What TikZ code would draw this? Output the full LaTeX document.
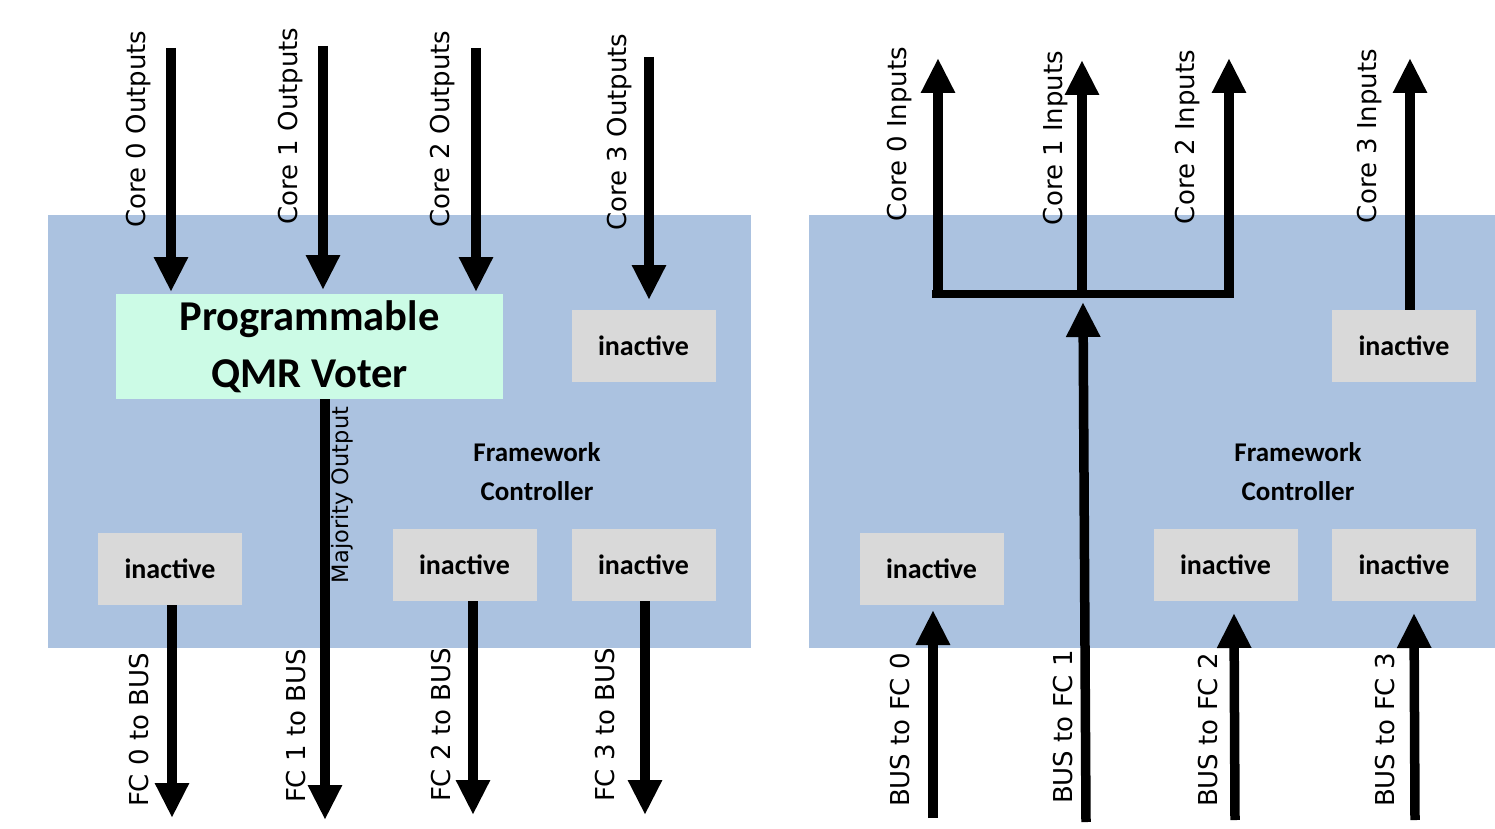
\documentclass[tikz,border=0pt]{standalone}
\usepackage{fontspec}
\setmainfont{Carlito}
\newfontfamily\lblfont{DejaVu Sans}
\usetikzlibrary{arrows.meta}
\definecolor{panelblue}{RGB}{171,194,224}
\definecolor{mint}{RGB}{204,251,230}
\definecolor{boxgray}{RGB}{217,217,217}
\begin{document}
\begin{tikzpicture}[x=1pt,y=-1pt,
  panel/.style={fill=panelblue, draw=none, minimum height=433pt, inner sep=0pt, anchor=north west},
  inbox/.style={fill=boxgray, draw=none, minimum width=144pt, minimum height=72pt, inner sep=0pt, font=\bfseries\fontsize{28}{30}\selectfont},
  voterbox/.style={fill=mint, draw=none, minimum width=387pt, minimum height=105pt, inner sep=0pt, align=center, font=\bfseries\fontsize{42.5}{57}\selectfont},
  flow/.style={line width=9.5pt, -{Triangle[width=32pt,length=35pt]}},
  plain/.style={line width=8pt},
  lbl/.style={rotate=90, font=\lblfont\fontsize{26}{28}\selectfont, inner sep=0pt},
  smalllbl/.style={rotate=90, font=\lblfont\fontsize{22.5}{24}\selectfont, inner sep=0pt},
  ctl/.style={font=\bfseries\fontsize{27}{39}\selectfont, align=center, inner sep=0pt}]
\useasboundingbox (0,0) rectangle (1495,829);

% panels
\node[panel, minimum width=703pt] (lpanel) at (48,215) {};
\node[panel, minimum width=686pt] (rpanel) at (809,215) {};

% ---------------- left panel ----------------
\node[voterbox] (voter) at (309.5,346.5) {Programmable\\QMR Voter};
\node[inbox] (li3) at (643.5,346) {inactive};
\node[inbox] (li0) at (170,569) {inactive};
\node[inbox] (li2) at (464.5,565) {inactive};
\node[inbox] (li4) at (643.5,565) {inactive};
\node[ctl] (lfc) at (537,472) {Framework\\Controller};

\coordinate (lo0) at (171,48);
\coordinate (lo1) at (323,46);
\coordinate (lo2) at (476,48);
\coordinate (lo3) at (649,57);
\draw[flow] (lo0) -- (171,292);
\draw[flow] (lo1) -- (323,290);
\draw[flow] (lo2) -- (476,292);
\draw[flow] (lo3) -- (649,300);

\coordinate (lb0) at (172,818);
\coordinate (lb1) at (325,820);
\coordinate (lb2) at (473,815);
\coordinate (lb3) at (645,815);
\draw[flow] (li0.south -| lb0) -- (lb0);
\draw[flow] (voter.south -| lb1) -- (lb1);
\draw[flow] (li2.south -| lb2) -- (lb2);
\draw[flow] (li4.south -| lb3) -- (lb3);

\node[lbl] (tl0) at (139,129) {Core 0 Outputs};
\node[lbl] (tl1) at (291,126) {Core 1 Outputs};
\node[lbl] (tl2) at (443,129) {Core 2 Outputs};
\node[lbl] (tl3) at (620,132) {Core 3 Outputs};
\node[smalllbl] (mo) at (342,495) {Majority Output};
\node[lbl] (bl0) at (139,730) {FC 0 to BUS};
\node[lbl] (bl1) at (296,726) {FC 1 to BUS};
\node[lbl] (bl2) at (441,725) {FC 2 to BUS};
\node[lbl] (bl3) at (605,725) {FC 3 to BUS};

% ---------------- right panel ----------------
\node[inbox] (ri3) at (1404,346) {inactive};
\node[inbox] (ri0) at (931.5,569) {inactive};
\node[inbox] (ri2) at (1225.5,565) {inactive};
\node[inbox] (ri4) at (1404,565) {inactive};
\node[ctl] (rfc) at (1298,472) {Framework\\Controller};

\coordinate (ja) at (932,294);
\coordinate (jb) at (1234,294);
\coordinate (j0) at (938,294);
\coordinate (j1) at (1082,294);
\coordinate (j2) at (1229,294);
\draw[plain] (ja) -- (jb);
\draw[flow] ([yshift=4pt]j0) -- (938,58);
\draw[flow] (j1) -- (1082,60);
\draw[flow] ([yshift=4pt]j2) -- (1229,58);
\draw[flow] (ri3.north -| 1410,0) -- (1410,58);

\coordinate (rb0) at (933,818);
\coordinate (rb1) at (1086,822);
\coordinate (rb2) at (1235,820);
\coordinate (rb3) at (1415,820);
\draw[flow] (rb0) -- (933,610);
\draw[flow] (rb1) -- (1083,302);
\draw[flow] (rb2) -- (1234,613);
\draw[flow] (rb3) -- (1414,613);

\node[lbl] (tr0) at (900,134) {Core 0 Inputs};
\node[lbl] (tr1) at (1056,138) {Core 1 Inputs};
\node[lbl] (tr2) at (1188,137) {Core 2 Inputs};
\node[lbl] (tr3) at (1370,136) {Core 3 Inputs};
\node[lbl] (br0) at (900,730) {BUS to FC 0};
\node[lbl] (br1) at (1063,727) {BUS to FC 1};
\node[lbl] (br2) at (1208,730) {BUS to FC 2};
\node[lbl] (br3) at (1385,730) {BUS to FC 3};
\end{tikzpicture}
\end{document}
